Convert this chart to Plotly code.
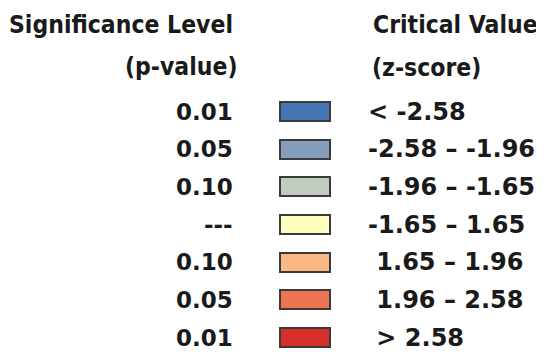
import plotly.graph_objects as go

# ---- data ----
header_left = ["Significance Level", "(p-value)"]
header_right = ["Critical Value", "(z-score)"]
p_labels = ["0.01", "0.05", "0.10", "---", "0.10", "0.05", "0.01"]
z_labels = ["< -2.58", "-2.58 – -1.96", "-1.96 – -1.65", "-1.65 – 1.65",
            "\u00a01.65 – 1.96", "\u00a01.96 – 2.58", "\u00a0> 2.58"]
swatch_colors = ["#4575b5", "#849eba", "#c0ccbe", "#ffffbf",
                 "#fab984", "#ed7551", "#d62f27"]

rows = list(range(len(p_labels)))

HEAD_FONT = dict(family="DejaVu Sans Condensed, DejaVu Sans", size=24.5, color="#1a1a1a", weight="bold")
LEFT_FONT = dict(family="DejaVu Sans", size=23, color="#1a1a1a", weight="bold")
RIGHT_FONT = dict(family="DejaVu Sans", size=24, color="#1a1a1a", weight="bold")

PITCH = 37.67   # row pitch in pixels
Y0 = 111.5      # first row center (px)
W, H = 544, 356
OFF = 8         # page body margin

def row_of(py):
    return (py - Y0) / PITCH

fig = go.Figure()
fig.add_trace(go.Bar(
    orientation="h",
    y=rows,
    x=[50] * len(rows),
    base=[280] * len(rows),
    width=19 / PITCH,
    marker=dict(color=swatch_colors, line=dict(color="#3a3a3a", width=2)),
    hoverinfo="skip",
    showlegend=False,
))

ann = []
ann.append(dict(x=235, y=row_of(24), text=header_left[0], xanchor="right", yanchor="middle", font=HEAD_FONT))
ann.append(dict(x=240, y=row_of(66), text=header_left[1], xanchor="right", yanchor="middle", font=HEAD_FONT))
ann.append(dict(x=371, y=row_of(24), text=header_right[0], xanchor="left", yanchor="middle", font=HEAD_FONT))
ann.append(dict(x=370, y=row_of(67), text=header_right[1], xanchor="left", yanchor="middle", font=HEAD_FONT))
for r, p, z in zip(rows, p_labels, z_labels):
    ann.append(dict(x=235, y=r, text=p, xanchor="right", yanchor="middle", font=LEFT_FONT))
    ann.append(dict(x=366, y=r, text=z, xanchor="left", yanchor="middle", font=RIGHT_FONT))
for a in ann:
    a.update(xref="x", yref="y", showarrow=False)

fig.update_layout(
    width=W, height=H,
    margin=dict(l=0, r=0, t=0, b=0),
    paper_bgcolor="white", plot_bgcolor="white",
    annotations=ann,
    xaxis=dict(range=[OFF, W + OFF], visible=False, fixedrange=True),
    yaxis=dict(range=[row_of(H + OFF), row_of(OFF)], visible=False, fixedrange=True),
    bargap=0,
)
fig.write_html("out.html")
